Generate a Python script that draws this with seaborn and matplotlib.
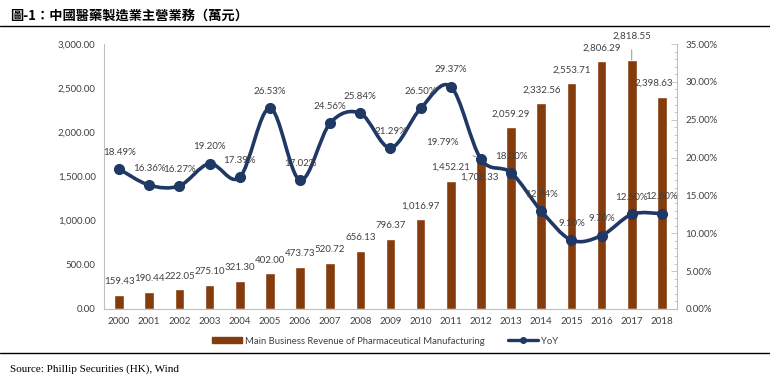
import numpy as np
import matplotlib
matplotlib.use("Agg")
import matplotlib.pyplot as plt
import seaborn as sns
from matplotlib.path import Path
from matplotlib.patches import PathPatch, Patch
from matplotlib.lines import Line2D
from matplotlib.ticker import MultipleLocator, FuncFormatter

# === Data ===
years = [str(y) for y in range(2000, 2019)]
revenue = [159.43, 190.44, 222.05, 275.10, 321.30, 402.00, 473.73, 520.72, 656.13, 796.37,
           1016.97, 1452.21, 1708.33, 2059.29, 2332.56, 2553.71, 2806.29, 2818.55, 2398.63]
yoy = [18.49, 16.36, 16.27, 19.20, 17.39, 26.53, 17.02, 24.56, 25.84, 21.29,
       26.50, 29.37, 19.79, 18.00, 12.94, 9.10, 9.70, 12.50, 12.60]

title = "圖-1：中國醫藥製造業主營業務（萬元）"
bar_name = "Main Business Revenue of Pharmaceutical Manufacturing"
line_name = "YoY"
source = "Source: Phillip Securities (HK), Wind"

BAR_COLOR = "#843C0C"
LINE_COLOR = "#1F3864"
TXT = "#404040"
AX_GRAY = "#BFBFBF"

sns.set_theme(style="white")
plt.rcParams["font.family"] = ["Lato", "DejaVu Sans"]

fig = plt.figure(figsize=(7.70, 3.84), dpi=100)
ax = fig.add_axes([104 / 770, 1 - 309 / 384, 573 / 770, 265 / 384])

# === Bars ===
sns.barplot(x=years, y=revenue, color=BAR_COLOR, width=0.32, saturation=1, ax=ax)
ax.set_ylim(0, 3000)
ax.set_xlim(-0.5, len(years) - 0.5)
ax.yaxis.set_major_locator(MultipleLocator(500))
ax.yaxis.set_major_formatter(FuncFormatter(lambda v, p: f"{v:,.2f}"))
ax.tick_params(axis="both", labelsize=7, colors=TXT, length=0, pad=6)
for s in ["top", "right"]:
    ax.spines[s].set_visible(False)
for s in ["left", "bottom"]:
    ax.spines[s].set_color(AX_GRAY)
    ax.spines[s].set_linewidth(0.8)

# bar labels (offsets in points)
bar_off = {12: (-1.5, -13.5), 17: (0, 17), 18: (-6, 10)}
for i, v in enumerate(revenue):
    dx, dy = bar_off.get(i, (0, 9.5))
    kw = {}
    if i == 17:
        kw["arrowprops"] = dict(arrowstyle="-", color="#808080", lw=0.6, shrinkA=4, shrinkB=0)
    ax.annotate(f"{v:,.2f}", (i, v), xytext=(dx, dy), textcoords="offset points",
                ha="center", va="center", fontsize=7, color=TXT, **kw)

# === Line on secondary axis ===
ax2 = ax.twinx()
ax2.set_ylim(0, 35)
ax2.yaxis.set_major_locator(MultipleLocator(5))
ax2.yaxis.set_minor_locator(MultipleLocator(1))
ax2.yaxis.set_major_formatter(FuncFormatter(lambda v, p: f"{v:.2f}%"))
ax2.tick_params(axis="y", which="major", labelsize=7, length=4, width=0.6,
                direction="in", pad=6, color=AX_GRAY, labelcolor=TXT)
ax2.tick_params(axis="y", which="minor", length=2, width=0.6, color=AX_GRAY, direction="in")
ax2.spines["right"].set_color(AX_GRAY)
ax2.spines["right"].set_linewidth(0.8)
for s in ["top", "left", "bottom"]:
    ax2.spines[s].set_visible(False)
ax2.grid(False)
ax.grid(False)

# smoothed curve through the points (Catmull-Rom as Bezier, like Excel smoothing)
xs = np.arange(len(yoy), dtype=float)
ys = np.array(yoy, dtype=float)
verts = [(xs[0], ys[0])]
codes = [Path.MOVETO]
n = len(xs)
for i in range(n - 1):
    p0 = np.array([xs[max(i - 1, 0)], ys[max(i - 1, 0)]])
    p1 = np.array([xs[i], ys[i]])
    p2 = np.array([xs[i + 1], ys[i + 1]])
    p3 = np.array([xs[min(i + 2, n - 1)], ys[min(i + 2, n - 1)]])
    c1 = p1 + (p2 - p0) / 6.0
    c2 = p2 - (p3 - p1) / 6.0
    verts += [tuple(c1), tuple(c2), tuple(p2)]
    codes += [Path.CURVE4] * 3
ax2.add_patch(PathPatch(Path(verts, codes), facecolor="none", edgecolor=LINE_COLOR,
                        lw=2.6, capstyle="round", joinstyle="round", zorder=3))
ax2.plot(xs, ys, linestyle="none", marker="o", markersize=7, color=LINE_COLOR, zorder=4)

line_off = {12: (-28, 12)}
for i, v in enumerate(yoy):
    dx, dy = line_off.get(i, (0, 12))
    kw = {}
    if i == 12:
        kw["arrowprops"] = dict(arrowstyle="-", color="#808080", lw=0.6, shrinkA=10, shrinkB=3)
    ax2.annotate(f"{v:.2f}%", (i, v), xytext=(dx, dy), textcoords="offset points",
                 ha="center", va="center", fontsize=7, color=TXT, zorder=5, **kw)

# === Legend ===
handles = [Patch(facecolor=BAR_COLOR, edgecolor=BAR_COLOR),
           Line2D([0], [0], color=LINE_COLOR, lw=2.4, marker="o", markersize=4)]
fig.legend(handles, [bar_name, line_name], loc="center", bbox_to_anchor=(0.5, 1 - 341 / 384),
           ncol=2, frameon=False, fontsize=6.8, handlelength=3.2, handleheight=0.5,
           columnspacing=2.4, handletextpad=0.3, labelcolor=TXT)

# === Title, rules and source ===
fig.text(10 / 770, 1 - 16 / 384, title, fontsize=9.5, fontweight="bold",
         family=["Noto Sans CJK TC", "DejaVu Sans"], va="center", ha="left", color="black")
fig.add_artist(Line2D([0, 1], [1 - 26 / 384, 1 - 26 / 384], color="black", lw=1.0))
fig.add_artist(Line2D([0, 1], [1 - 353 / 384, 1 - 353 / 384], color="black", lw=1.0))
fig.text(10 / 770, 1 - 369 / 384, source, fontsize=8, family=["Liberation Serif"],
         va="center", ha="left", color="black")

fig.savefig("out.png", dpi=100, facecolor="white")
